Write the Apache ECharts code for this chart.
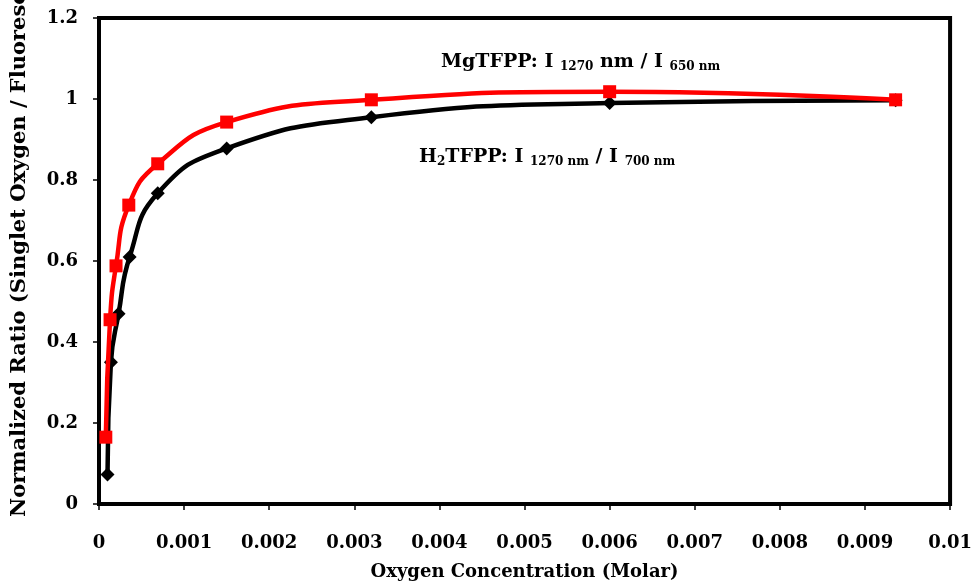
<!DOCTYPE html>
<html>
<head>
<meta charset="utf-8">
<script src="https://cdn.jsdelivr.net/npm/echarts@6/dist/echarts.min.js"></script>
<style>
  html, body { margin: 0; padding: 0; background: #fff; }
  #chart { width: 975px; height: 586px; }
</style>
</head>
<body>
<div id="chart"></div>
<script>
// Oxygen concentration (M) and normalized singlet-oxygen / fluorescence ratios
const h2tfppConc  = [0.0001, 0.00014, 0.00023, 0.00036, 0.00069, 0.0015, 0.0032, 0.006, 0.00936];
const h2tfppRatio = [0.073, 0.35, 0.47, 0.61, 0.767, 0.878, 0.955, 0.99, 0.997];
const mgtfppConc  = [0.00008, 0.00013, 0.0002, 0.00035, 0.00069, 0.0015, 0.0032, 0.006, 0.00936];
const mgtfppRatio = [0.165, 0.455, 0.588, 0.738, 0.84, 0.943, 0.998, 1.018, 0.998];

const xTicks = { min: 0, max: 0.01, step: 0.001 };
const yTicks = { min: 0, max: 1.2, step: 0.2 };

const serif = '"DejaVu Serif", "Liberation Serif", serif';

const pairs = (xs, ys) => xs.map((x, i) => [x, ys[i]]);

const chart = echarts.init(document.getElementById('chart'), null, { renderer: 'canvas' });

const subRich = {
  m: { fontFamily: serif, fontWeight: 'bold', fontSize: 19, lineHeight: 22, color: '#000' },
  s: { fontFamily: serif, fontWeight: 'bold', fontSize: 12, lineHeight: 12, verticalAlign: 'bottom', color: '#000' }
};

chart.setOption({
  animation: false,
  backgroundColor: '#fff',
  grid: {
    left: 99, right: 19, top: 18, bottom: 75,
    show: true, borderColor: '#000', borderWidth: 4, backgroundColor: 'transparent'
  },
  xAxis: {
    type: 'value',
    min: xTicks.min, max: xTicks.max, interval: xTicks.step,
    axisLine: { show: true, onZero: false, lineStyle: { color: '#000', width: 4 } },
    axisTick: { show: true, inside: false, length: 6, lineStyle: { color: '#000', width: 1.5 } },
    splitLine: { show: false },
    axisLabel: {
      margin: 30, color: '#000', fontFamily: serif, fontWeight: 'bold', fontSize: 18,
      formatter: v => (v === 0 ? '0' : String(+v.toFixed(4)))
    },
    name: 'Oxygen Concentration (Molar)',
    nameLocation: 'middle', nameGap: 59,
    nameTextStyle: { color: '#000', fontFamily: serif, fontWeight: 'bold', fontSize: 18 }
  },
  yAxis: {
    type: 'value',
    min: yTicks.min, max: yTicks.max, interval: yTicks.step,
    axisLine: { show: true, onZero: false, lineStyle: { color: '#000', width: 4 } },
    axisTick: { show: true, inside: false, length: 6, lineStyle: { color: '#000', width: 1.5 } },
    splitLine: { show: false },
    axisLabel: {
      margin: 21, color: '#000', fontFamily: serif, fontWeight: 'bold', fontSize: 18,
      formatter: v => String(+v.toFixed(1))
    }
  },
  graphic: [
    {
      type: 'text', x: 20, y: 517, rotation: Math.PI / 2,
      style: {
        text: 'Normalized Ratio (Singlet Oxygen / Fluorescence)',
        fontFamily: serif, fontWeight: 'bold', fontSize: 21, fill: '#000',
        align: 'left', verticalAlign: 'middle', textAlign: 'left', textVerticalAlign: 'middle'
      }
    },
    {
      type: 'text', x: 441, y: 51,
      style: {
        text: '{m|MgTFPP: I }{s|1270}{m| nm / I }{s|650 nm}',
        rich: subRich, fill: '#000'
      }
    },
    {
      type: 'text', x: 419, y: 146,
      style: {
        text: '{m|H}{s|2}{m|TFPP: I }{s|1270 nm}{m| / I }{s|700 nm}',
        rich: subRich, fill: '#000'
      }
    }
  ],
  series: [
    {
      name: 'H2TFPP', type: 'line',
      data: pairs(h2tfppConc, h2tfppRatio),
      smooth: 0.5,
      symbol: 'diamond', symbolSize: 14,
      lineStyle: { color: '#000', width: 4.5 },
      itemStyle: { color: '#000' },
      z: 2
    },
    {
      name: 'MgTFPP', type: 'line',
      data: pairs(mgtfppConc, mgtfppRatio),
      smooth: 0.5,
      symbol: 'rect', symbolSize: 13,
      lineStyle: { color: '#ff0000', width: 4.5 },
      itemStyle: { color: '#ff0000' },
      z: 3
    }
  ]
});
</script>
</body>
</html>
